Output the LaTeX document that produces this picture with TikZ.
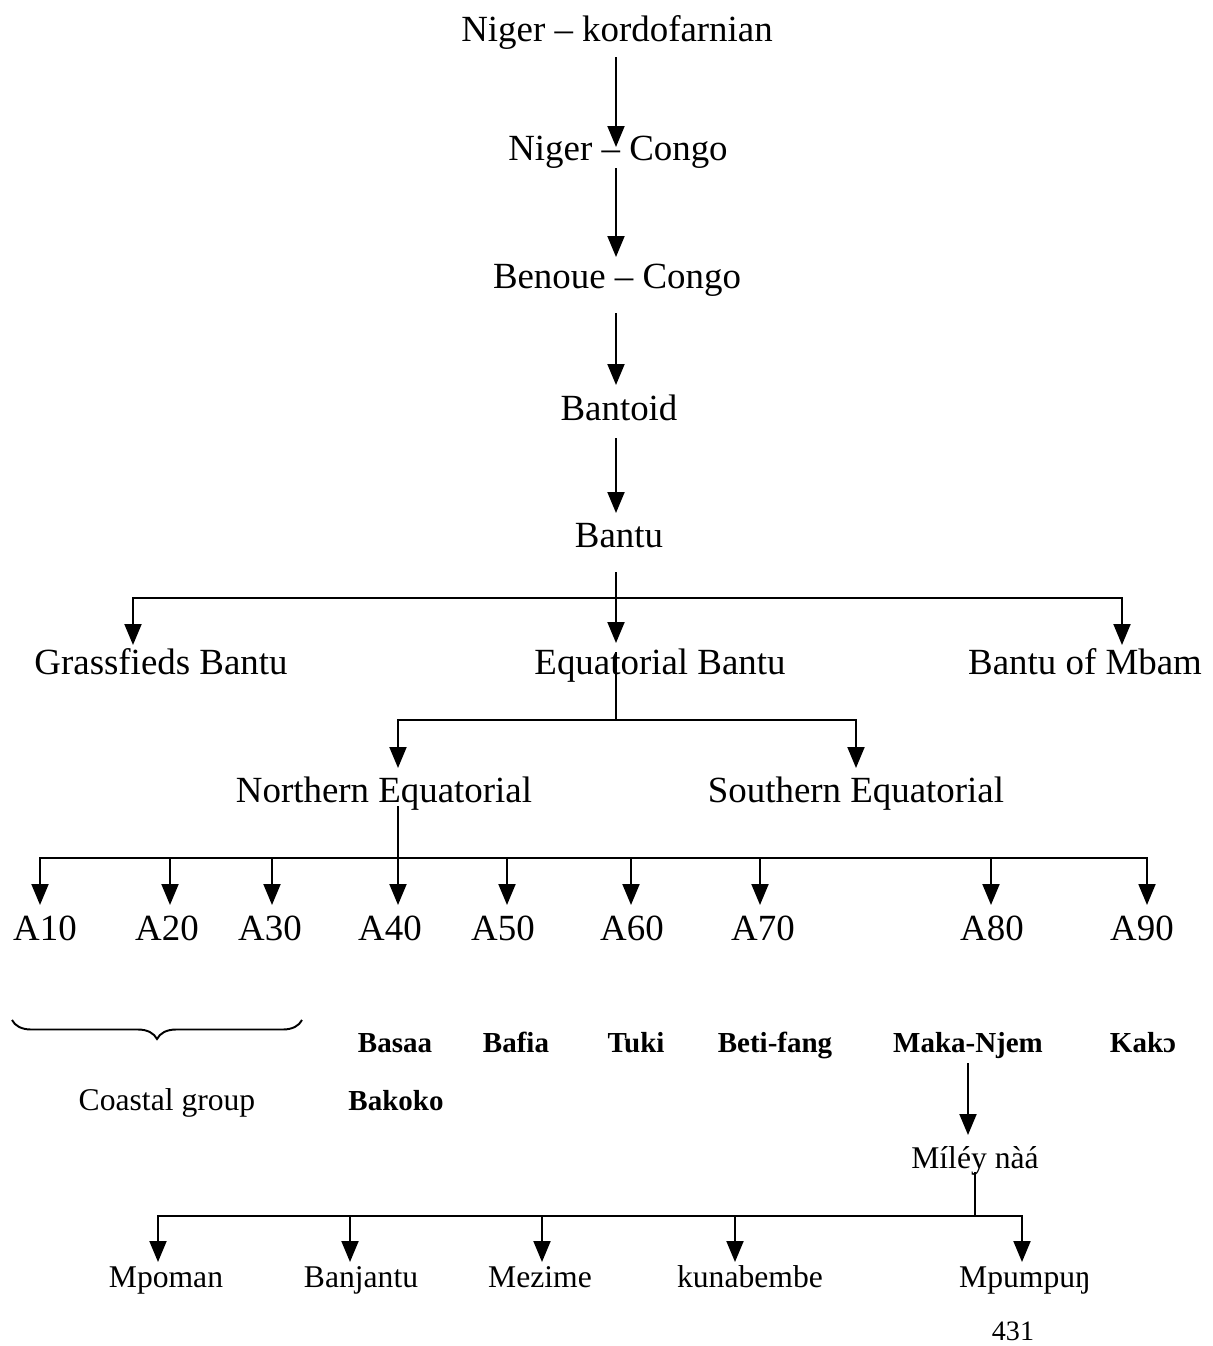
\documentclass[tikz,border=0pt]{standalone}
\usepackage{fontspec}
\setmainfont{Liberation Serif}
\usetikzlibrary{arrows.meta,calc,decorations.pathreplacing}
\begin{document}
\begin{tikzpicture}[x=0.02cm,y=-0.02cm,
  every node/.style={inner sep=0pt, anchor=base},
  big/.style={font=\fontsize{21}{25}\selectfont},
  lang/.style={font=\fontsize{16.5}{20}\selectfont\bfseries},
  small/.style={font=\fontsize{18}{22}\selectfont},
  link/.style={line width=1.1pt},
  arr/.style={link, -{Triangle[length=0.42cm,width=0.34cm]}},
  brace/.style={line width=1.1pt, decorate, decoration={brace, amplitude=0.38cm}},
]
\useasboundingbox (0,0) rectangle (1213,1346);

% main chain
\node[big] (nk) at (617,41)  {Niger – kordofarnian};
\node[big] (nc) at (618,160) {Niger – Congo};
\node[big] (bc) at (617,288) {Benoue – Congo};
\node[big] (bd) at (619,420) {Bantoid};
\node[big] (bu) at (619,547) {Bantu};

% first split
\node[big] (gb) at (161,674)  {Grassfieds Bantu};
\node[big] (eb) at (660,674)  {Equatorial Bantu};
\node[big] (bm) at (1085,674) {Bantu of Mbam};

% equatorial split
\node[big] (ne) at (384,802) {Northern Equatorial};
\node[big] (se) at (856,802) {Southern Equatorial};

% Guthrie zones
\node[big] (a1) at (45,940)   {A10};
\node[big] (a2) at (167,940)  {A20};
\node[big] (a3) at (270,940)  {A30};
\node[big] (a4) at (390,940)  {A40};
\node[big] (a5) at (503,940)  {A50};
\node[big] (a6) at (632,940)  {A60};
\node[big] (a7) at (763,940)  {A70};
\node[big] (a8) at (992,940)  {A80};
\node[big] (a9) at (1142,940) {A90};

% languages of each zone
\node[lang] (basaa) at (395,1052)  {Basaa};
\node[lang] (bafia) at (516,1052)  {Bafia};
\node[lang] (tuki)  at (636,1052)  {Tuki};
\node[lang] (beti)  at (775,1052)  {Beti-fang};
\node[lang] (maka)  at (968,1052)  {Maka-Njem};
\node[lang] (kako)  at (1143,1052) {Kakɔ};
\node[small] (coast)  at (167,1110) {Coastal group};
\node[lang]  (bakoko) at (396,1110) {Bakoko};

\node[small] (miley) at (975,1168) {Míléy nàá};

\node[small] (mpoman) at (166,1287)  {Mpoman};
\node[small] (banj)   at (361,1287)  {Banjantu};
\node[small] (mezime) at (540,1287)  {Mezime};
\node[small] (kuna)   at (750,1287)  {kunabembe};
\node[small] (mpum)   at (1025,1287) {Mpumpuŋ};

\node[small, font=\fontsize{16}{19}\selectfont] (page) at (1013,1340) {431};

% brace over A10--A30
\coordinate (brR) at (302,1020);
\coordinate (brL) at (12,1020);
\draw[brace] (brR) -- (brL);

% chain arrows
\draw[arr] ($(nk.base)+(-1,16)$)  -- ($(nc.base)+(-2,-13)$);
\draw[arr] ($(nc.base)+(-2,8)$)   -- ($(bc.base)+(-1,-31)$);
\draw[arr] ($(bc.base)+(-1,25)$)  -- ($(bd.base)+(-3,-35)$);
\draw[arr] ($(bd.base)+(-3,18)$)  -- ($(bu.base)+(-3,-34)$);

% Bantu split
\draw[arr] ($(bu.base)+(-3,25)$) -- ($(eb.base)+(-44,-31)$);
\draw[arr] ($(bu.base)+(-3,51)$) -| ($(gb.base)+(-28,-29)$);
\draw[arr] ($(bu.base)+(-3,51)$) -| ($(bm.base)+(37,-29)$);

% Equatorial split
\draw[link] ($(eb.base)+(-44,-22)$) -- ($(eb.base)+(-44,46)$);
\draw[arr] ($(eb.base)+(-44,46)$) -| ($(ne.base)+(14,-34)$);
\draw[arr] ($(eb.base)+(-44,46)$) -| ($(se.base)+(0,-34)$);

% Northern Equatorial to the zones
\draw[arr] ($(ne.base)+(14,4)$) -- ($(a4.base)+(8,-35)$);
\draw[arr] ($(ne.base)+(14,56)$) -| ($(a1.base)+(-5,-35)$);
\draw[arr] ($(ne.base)+(14,56)$) -| ($(a2.base)+(3,-35)$);
\draw[arr] ($(ne.base)+(14,56)$) -| ($(a3.base)+(2,-35)$);
\draw[arr] ($(ne.base)+(14,56)$) -| ($(a5.base)+(4,-35)$);
\draw[arr] ($(ne.base)+(14,56)$) -| ($(a6.base)+(-1,-35)$);
\draw[arr] ($(ne.base)+(14,56)$) -| ($(a7.base)+(-3,-35)$);
\draw[arr] ($(ne.base)+(14,56)$) -| ($(a8.base)+(-1,-35)$);
\draw[arr] ($(ne.base)+(14,56)$) -| ($(a9.base)+(5,-35)$);

% Maka-Njem subgroup
\draw[arr] ($(maka.base)+(0,11)$) -- ($(miley.base)+(-7,-33)$);
\draw[link] ($(miley.base)+(0,4)$) -- ($(miley.base)+(0,48)$);
\draw[arr] ($(miley.base)+(0,48)$) -| ($(mpoman.base)+(-8,-25)$);
\draw[arr] ($(miley.base)+(0,48)$) -| ($(banj.base)+(-11,-25)$);
\draw[arr] ($(miley.base)+(0,48)$) -| ($(mezime.base)+(2,-25)$);
\draw[arr] ($(miley.base)+(0,48)$) -| ($(kuna.base)+(-15,-25)$);
\draw[arr] ($(miley.base)+(0,48)$) -| ($(mpum.base)+(-3,-25)$);
\end{tikzpicture}
\end{document}
